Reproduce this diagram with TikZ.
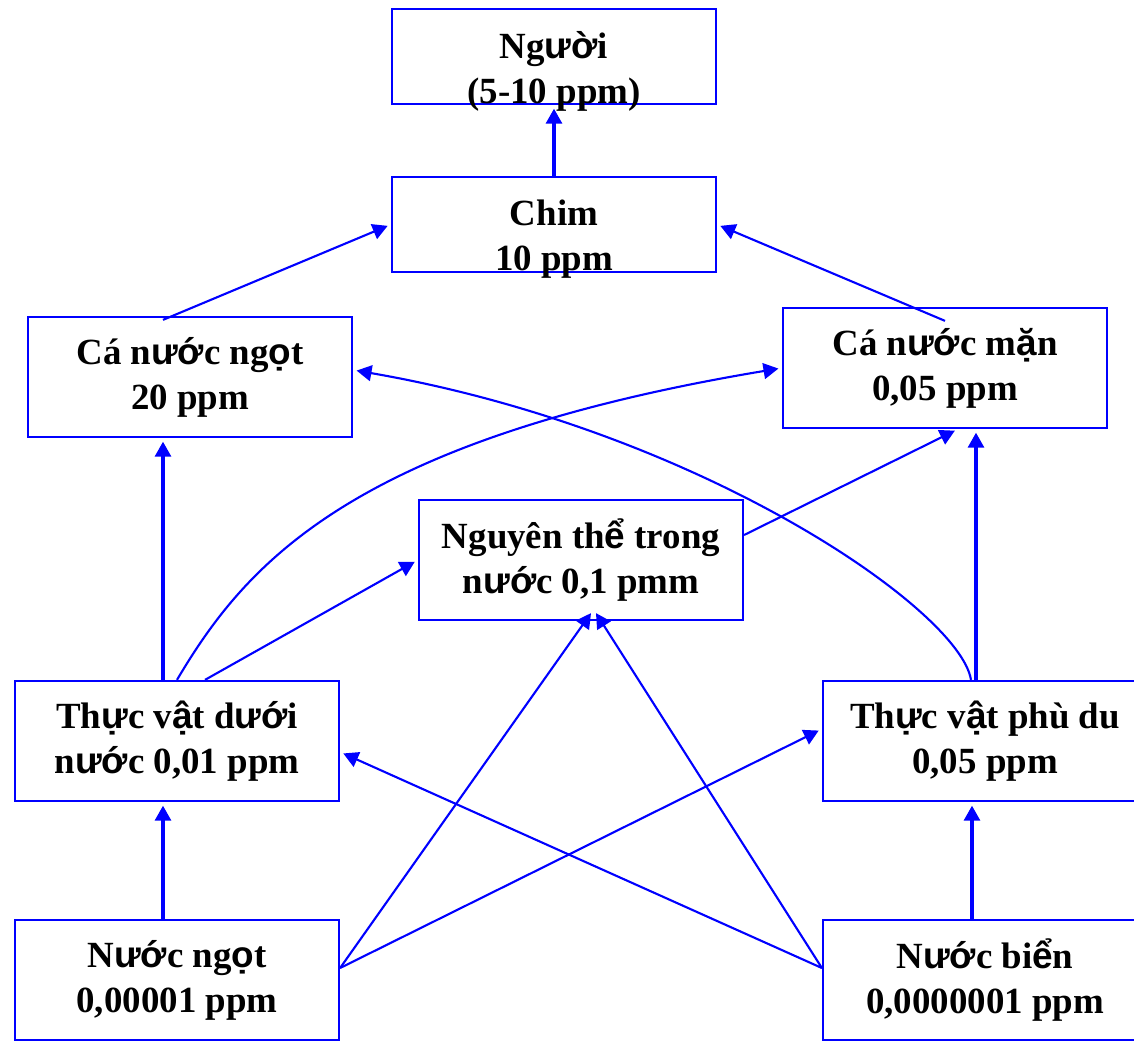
\documentclass[tikz,border=0pt]{standalone}
\usepackage{fontspec}
\setmainfont{Liberation Serif}
\newfontfamily\vnsans{Liberation Sans}
\newcommand{\vs}[1]{{\vnsans #1}}
\usetikzlibrary{arrows.meta,calc}

\begin{document}
\begin{tikzpicture}[x=0.02cm,y=-0.02cm,>={Triangle[length=8.5pt,width=9pt]},
  font=\fontsize{21}{25.5}\selectfont\bfseries,
  box/.style={draw=blue,line width=1.3pt,minimum width=6.48cm,minimum height=2.4cm,align=center,inner sep=0pt},
  flow/.style={->,blue,line width=1.2pt,shorten >=2pt},
  thickflow/.style={flow,line width=1.8pt}]
\clip (0,0) rectangle (1134,1041);
% top of the chain
\node[box,minimum height=1.9cm] (nguoi) at (554,56.5) {};
\node[align=center] (nguoit) at (554,71) {Ng\vs{ườ}i\\(5-10 ppm)};
\node[box,minimum height=1.9cm] (chim) at (554,224.5) {};
\node[align=center] (chimt) at (554,239) {Chim\\10 ppm};
\node[box] (cangot) at (190,377) {Cá n\vs{ướ}c ng\vs{ọ}t\\20 ppm};
\node[box] (caman) at (945,368) {Cá n\vs{ướ}c m\vs{ặ}n\\0,05 ppm};
\node[box] (nguyenthe) at (581,560) {Nguyên th\vs{ể} trong\\n\vs{ướ}c 0,1 pmm};
\node[box] (tvduoi) at (177,741) {Th\vs{ự}c v\vs{ậ}t d\vs{ướ}i\\n\vs{ướ}c 0,01 ppm};
\node[box] (tvphudu) at (985,741) {Th\vs{ự}c v\vs{ậ}t phù du\\0,05 ppm};
% sources
\node[box] (nuocngot) at (177,980) {N\vs{ướ}c ng\vs{ọ}t\\0,00001 ppm};
\node[box] (nuocbien) at (985,980) {N\vs{ướ}c bi\vs{ể}n\\0,0000001 ppm};

\draw[thickflow] (chim.north) -- (nguoi.south);
\draw[flow] ($(cangot.north)+(-27,4)$) -- (chim.west);
\draw[flow] ($(caman.north)+(0,14)$) -- (chim.east);
\draw[thickflow] ($(tvduoi.north)+(-14,0)$) -- ($(cangot.south)+(-27,0)$);
\draw[flow] (tvduoi.north) .. controls (245,565) and (350,440) .. (caman.west);
\draw[flow] ($(tvduoi.north)+(28,0)$) -- (nguyenthe.west);
\draw[flow] ($(tvphudu.north)+(-14,0)$) .. controls (960,610) and (700,430) .. ($(cangot.east)+(0,-7)$);
\draw[thickflow] ($(tvphudu.north)+(-9,0)$) -- ($(caman.south)+(31,0)$);
\draw[flow] ($(nguyenthe.east)+(0,-25)$) -- ($(caman.south)+(13,0)$);
\draw[thickflow] ($(nuocngot.north)+(-14,0)$) -- ($(tvduoi.south)+(-14,0)$);
\draw[flow,shorten >=0pt] ($(nuocngot.east)+(0,-12)$) -- ($(nguyenthe.south)+(10,-8)$);
\draw[flow] ($(nuocngot.east)+(0,-12)$) -- ($(tvphudu.west)+(0,-12)$);
\draw[flow,shorten >=0pt] ($(nuocbien.west)+(0,-12)$) -- ($(nguyenthe.south)+(15,-8)$);
\draw[flow] ($(nuocbien.west)+(0,-12)$) -- ($(tvduoi.east)+(0,11)$);
\draw[thickflow] ($(nuocbien.north)+(-13,0)$) -- ($(tvphudu.south)+(-13,0)$);
\end{tikzpicture}
\end{document}
